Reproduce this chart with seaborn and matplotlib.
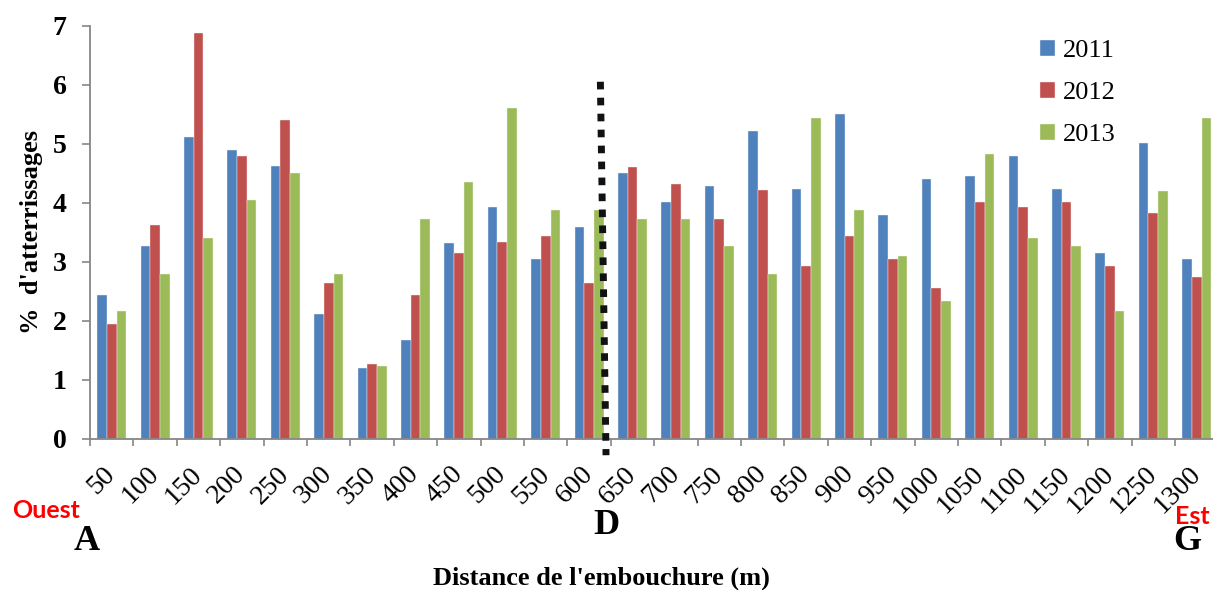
import numpy as np
import pandas as pd
import matplotlib
matplotlib.use('Agg')
import matplotlib.pyplot as plt
import seaborn as sns

# Distances (m) and % of landings per year
distances = ['50', '100', '150', '200', '250', '300', '350', '400', '450', '500', '550', '600', '650',
             '700', '750', '800', '850', '900', '950', '1000', '1050', '1100', '1150', '1200', '1250', '1300']
years = ['2011', '2012', '2013']
pct_2011 = [2.44, 3.26, 5.11, 4.89, 4.62, 2.12, 1.19, 1.68, 3.31, 3.92, 3.05, 3.58, 4.51,
            4.02, 4.29, 5.22, 4.24, 5.50, 3.80, 4.40, 4.46, 4.79, 4.24, 3.15, 5.01, 3.05]
pct_2012 = [1.95, 3.62, 6.87, 4.80, 5.40, 2.64, 1.27, 2.44, 3.14, 3.33, 3.43, 2.64, 4.61,
            4.31, 3.72, 4.21, 2.93, 3.43, 3.04, 2.55, 4.02, 3.92, 4.02, 2.93, 3.82, 2.74]
pct_2013 = [2.17, 2.79, 3.41, 4.04, 4.51, 2.79, 1.23, 3.72, 4.35, 5.60, 3.88, 3.88, 3.72,
            3.72, 3.26, 2.79, 5.44, 3.88, 3.10, 2.33, 4.82, 3.41, 3.26, 2.17, 4.19, 5.44]

# dotted divider (point D), in category / data units
divider_x = [11.26, 11.39]
divider_y = [6.05, -0.28]

colors = ['#4F81BD', '#C0504D', '#9BBB59']
axis_gray = '#868686'

df = pd.DataFrame({
    'distance': distances * 3,
    'year': np.repeat(years, len(distances)),
    'pct': pct_2011 + pct_2012 + pct_2013,
})

sns.set_theme(style='white')
plt.rcParams['font.family'] = ['Liberation Serif', 'DejaVu Serif']
plt.rcParams['text.color'] = 'black'
plt.rcParams['xtick.color'] = 'black'
plt.rcParams['ytick.color'] = 'black'

W, H = 1213, 590
fig = plt.figure(figsize=(W / 100, H / 100), dpi=100)
ax = fig.add_axes([90 / W, 1 - 438.7 / H, 1128.4 / W, 413 / H])

sns.barplot(data=df, x='distance', y='pct', hue='year', order=distances, hue_order=years,
            palette=colors, saturation=1, width=0.67, edgecolor='#f2f2f2', linewidth=0.3,
            errorbar=None, ax=ax)

ax.set_xlim(-0.5, len(distances) - 0.5)
ax.set_ylim(0, 7)

# dotted divider line
ax.plot(divider_x, divider_y, color='#111111', lw=5, linestyle=(0, (1.1, 1.2)),
        solid_capstyle='butt', dash_capstyle='butt', clip_on=False, zorder=5)

# spines
for s in ['top', 'right']:
    ax.spines[s].set_visible(False)
for s in ['left', 'bottom']:
    ax.spines[s].set_color(axis_gray)
    ax.spines[s].set_linewidth(1.3)

# x ticks: labels at centres, tick marks at group boundaries
ax.set_xticks(np.arange(len(distances)))
ax.set_xticklabels(distances, rotation=45, ha='right', va='center', rotation_mode='anchor',
                   fontsize=20)
ax.set_xticks(np.arange(-0.5, len(distances), 1), minor=True)
ax.tick_params(axis='x', which='major', length=0, pad=23, bottom=True, labelcolor='black')
ax.tick_params(axis='x', which='minor', length=5, width=1.2, color=axis_gray,
               direction='out', bottom=True)

ax.set_yticks(range(8))
ax.tick_params(axis='y', length=5.8, width=1.2, color=axis_gray, direction='out',
               left=True, pad=11, labelsize=20, labelcolor='black')
for t in ax.get_yticklabels():
    t.set_fontweight('bold')

ax.set_xlabel('')
ax.set_ylabel('')

fig.text(32 / W, 1 - 232 / H, "%  d'atterrissages", rotation=90, ha='center', va='center',
         fontsize=19, fontweight='bold', color='black')
fig.text(601 / W, 1 - 578 / H, "Distance de l'embouchure (m)", ha='center', va='center',
         fontsize=19, fontweight='bold', color='black')

# Ouest / Est and points A, D, G
fig.text(46 / W, 1 - 511 / H, 'Ouest', ha='center', va='center', color='red',
         fontsize=18, fontweight='bold', family=['Lato', 'DejaVu Sans'])
fig.text(1192 / W, 1 - 516 / H, 'Est', ha='center', va='center', color='red',
         fontsize=18, fontweight='bold', family=['Lato', 'DejaVu Sans'])
fig.text(86.5 / W, 1 - 542 / H, 'A', ha='center', va='center', fontsize=26, fontweight='bold',
         color='black')
fig.text(606.5 / W, 1 - 525 / H, 'D', ha='center', va='center', fontsize=26, fontweight='bold',
         color='black')
fig.text(1187 / W, 1 - 542 / H, 'G', ha='center', va='center', fontsize=26, fontweight='bold',
         color='black')

# legend
handles, labels = ax.get_legend_handles_labels()
leg = ax.legend(handles, labels, loc='upper left', bbox_to_anchor=(1040 / W, 1 - 40 / H),
                bbox_transform=fig.transFigure, frameon=False, fontsize=19,
                handlelength=0.55, handleheight=0.55, handletextpad=0.3,
                labelspacing=0.75, borderpad=0, borderaxespad=0)
for t in leg.get_texts():
    t.set_color('black')

fig.savefig('out.png', dpi=100)
